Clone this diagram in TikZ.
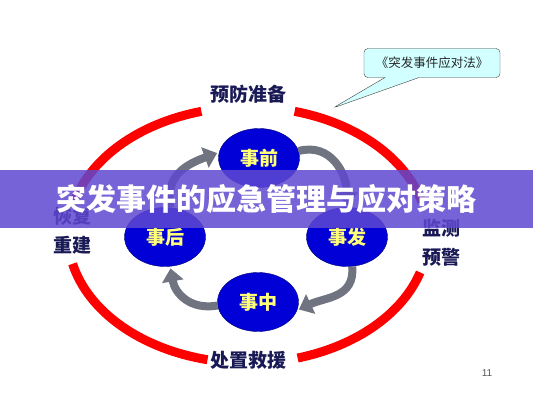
\documentclass[tikz,border=0pt]{standalone}
\usepackage{fontspec}
\newfontfamily\cjk{Noto Sans CJK SC}
\setsansfont{Liberation Sans}
\usetikzlibrary{arrows.meta, shapes.geometric, shapes.callouts, positioning}

\definecolor{label navy}{RGB}{25,25,85}
\definecolor{phase blue}{RGB}{0,0,215}
\definecolor{phase edge}{RGB}{0,0,120}
\definecolor{phase yellow}{RGB}{255,255,120}
\definecolor{cycle gray}{RGB}{112,116,128}
\definecolor{law cyan}{RGB}{210,255,255}
\definecolor{banner purple}{RGB}{95,72,208}

\begin{document}
\begin{tikzpicture}[x=1pt,y=1pt,font=\cjk,>={Triangle[width=21pt,length=13pt]}]

		\tikzset{ring/.style={draw=red, line width=9pt}}
		\tikzset{phase/.style={ellipse, draw=phase edge, fill=phase blue,
				minimum width=81pt, minimum height=59pt, inner sep=0pt,
				text=phase yellow, font=\cjk\bfseries\fontsize{19}{19}\selectfont}}
		\tikzset{cyc arrow/.style={->, draw=cycle gray, line width=8pt,
				looseness=1.15, shorten >=2pt}}
		\tikzset{stage label/.style={text=label navy, align=center,
				font=\cjk\bfseries\fontsize{19}{29}\selectfont}}

	\useasboundingbox (0,0) rectangle (533,400);
	\fill[white] (0,0) rectangle (533,400);

	% red ring in four pieces
	\coordinate (ringc) at (248,165);
	\foreach \a/\b in {105/165, 15/75, 193/257, 286/343}
		\draw[ring] (ringc) ++(\a:180pt and 128pt)
			arc[start angle=\a, end angle=\b, x radius=180pt, y radius=128pt];

	\node[phase] (pre) at (259,242) {事前};
	\node[phase] (fa) at (347,163) {事发};
	\node[phase] (mid) at (258,98) {事中};
	\node[phase] (post) at (165,163) {事后};

	\draw[cyc arrow] (pre.10) to[out=15, in=90] (fa.90);
	\draw[cyc arrow] (fa.-80) to[out=-85, in=25] (mid.-12);
	\draw[cyc arrow] (mid.185) to[out=190, in=-80] (post.-80);
	\draw[cyc arrow] (post.80) to[out=100, in=200] (pre.172);

	\node[stage label] (prep) at (248,306) {预防准备};
	\node[stage label] (rescue) at (248,40) {处置救援};
	\node[stage label] (recover) at (72,169) {恢复\\重建};
	\node[stage label] (warn) at (441,157) {监测\\预警};

	% law callout
	\coordinate (law tip) at (333,292);
	\node[rectangle callout, rounded corners=4pt, draw=black!75, fill=law cyan,
		minimum width=136pt, minimum height=29pt,
		callout absolute pointer={(law tip)}, callout pointer width=34pt,
		text=black!85, font=\cjk\fontsize{12.5}{12.5}\selectfont]
		(law) at (432,337) {《突发事件应对法》};

	\node[text=black!65, font=\sffamily\fontsize{10}{10}\selectfont] (page) at (487,27) {11};

	% title band over the picture
	\node[fill=banner purple, fill opacity=0.85, text opacity=1,
		minimum width=533pt, minimum height=58pt, inner sep=0pt,
		text=white, font=\cjk\bfseries\fontsize{30}{30}\selectfont]
		(title) at (266.5,201) {突发事件的应急管理与应对策略};
\end{tikzpicture}
\end{document}
